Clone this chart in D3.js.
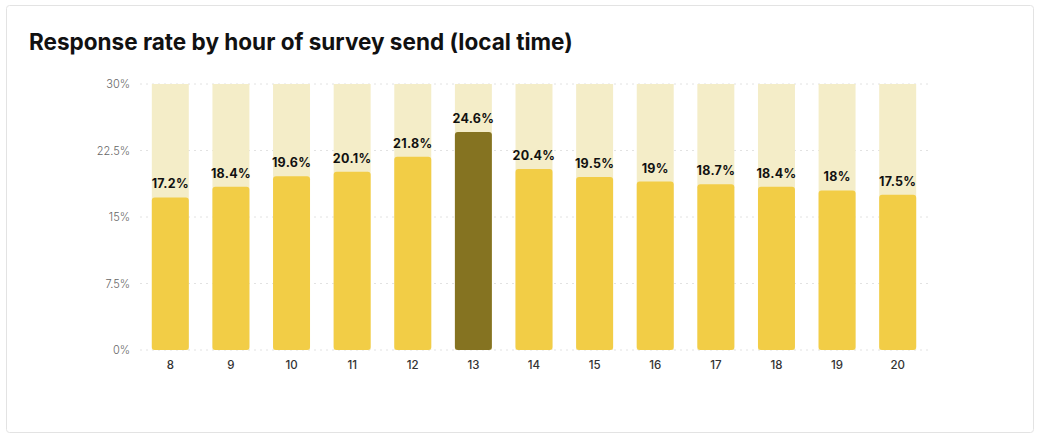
<!DOCTYPE html>
<html>
<head>
<meta charset="utf-8">
<script src="https://cdn.jsdelivr.net/npm/d3@7"></script>
<style>
  html, body { margin: 0; padding: 0; background: #fff; }
  svg { display: block; font-family: Inter, "Open Sans", sans-serif; }
</style>
</head>
<body>
<svg id="chart" width="1041" height="439"></svg>
<script>
// hours of send, response rate (%) per hour
const hours = [8, 9, 10, 11, 12, 13, 14, 15, 16, 17, 18, 19, 20];
const rates = [17.2, 18.4, 19.6, 20.1, 21.8, 24.6, 20.4, 19.5, 19, 18.7, 18.4, 18, 17.5];
const yTickValues = [0, 7.5, 15, 22.5, 30];
const peakHour = 13;

const svg = d3.select('#chart');
const W = 1041, H = 439;

// card
svg.append('rect')
  .attr('x', 6.5).attr('y', 5.5)
  .attr('width', 1027).attr('height', 427)
  .attr('rx', 3)
  .attr('fill', '#fff')
  .attr('stroke', '#e3e3e3');

const title = svg.append('text')
  .attr('x', 29).attr('y', 50)
  .attr('font-size', 21)
  .attr('font-weight', 700)
  .attr('fill', '#111')
  .text('Response rate by hour of survey send (local time)');
// fit the title to the reference width
const tw = title.node().getComputedTextLength();
title.attr('font-size', 21 * 544 / tw);

const margin = {left: 140, right: 1041 - 928, top: 84, bottom: 439 - 350};

const x = d3.scaleBand()
  .domain(hours)
  .range([margin.left, W - margin.right])
  .paddingInner(0.39)
  .paddingOuter(0.195);

const y = d3.scaleLinear()
  .domain([0, 30])
  .range([H - margin.bottom, margin.top]);

// dotted gridlines
const grid = svg.append('g').attr('class', 'grid');
grid.selectAll('line')
  .data(yTickValues)
  .join('line')
  .attr('x1', margin.left).attr('x2', W - margin.right)
  .attr('y1', d => y(d)).attr('y2', d => y(d))
  .attr('stroke', '#e2e2e2')
  .attr('stroke-dasharray', '2,4');

// y axis labels
const yAxis = svg.append('g')
  .attr('transform', `translate(${margin.left - 10},0)`)
  .call(d3.axisLeft(y).tickValues(yTickValues).tickSize(0).tickPadding(0)
    .tickFormat(d => d + '%'));
yAxis.select('.domain').remove();
yAxis.selectAll('text')
  .attr('font-family', 'Inter, sans-serif')
  .attr('font-size', 11)
  .attr('font-weight', 300)
  .attr('fill', '#666');

// x axis labels
const xAxis = svg.append('g')
  .attr('transform', `translate(0,${y(0)})`)
  .call(d3.axisBottom(x).tickSize(0).tickPadding(11));
xAxis.select('.domain').remove();
xAxis.selectAll('text')
  .attr('font-family', 'Inter, sans-serif')
  .attr('font-size', 11.5)
  .attr('font-weight', 500)
  .attr('fill', '#333');

const data = hours.map((h, i) => ({hour: h, rate: rates[i]}));

// background (full scale) bars
svg.append('g').selectAll('rect')
  .data(data)
  .join('rect')
  .attr('x', d => x(d.hour))
  .attr('width', x.bandwidth())
  .attr('y', y(30))
  .attr('height', y(0) - y(30))
  .attr('fill', '#f4edc8');

// value bars
svg.append('g').selectAll('rect')
  .data(data)
  .join('rect')
  .attr('x', d => x(d.hour))
  .attr('width', x.bandwidth())
  .attr('y', d => y(d.rate))
  .attr('height', d => y(0) - y(d.rate))
  .attr('rx', 3)
  .attr('fill', d => d.hour === peakHour ? '#857321' : '#f2cd46');

// value labels
svg.append('g').selectAll('text')
  .data(data)
  .join('text')
  .attr('x', d => x(d.hour) + x.bandwidth() / 2)
  .attr('y', d => y(d.rate) - 9)
  .attr('text-anchor', 'middle')
  .attr('font-size', 12.5)
  .attr('font-weight', 700)
  .attr('letter-spacing', 0.3)
  .attr('fill', '#111')
  .text(d => d.rate + '%');
</script>
</body>
</html>
